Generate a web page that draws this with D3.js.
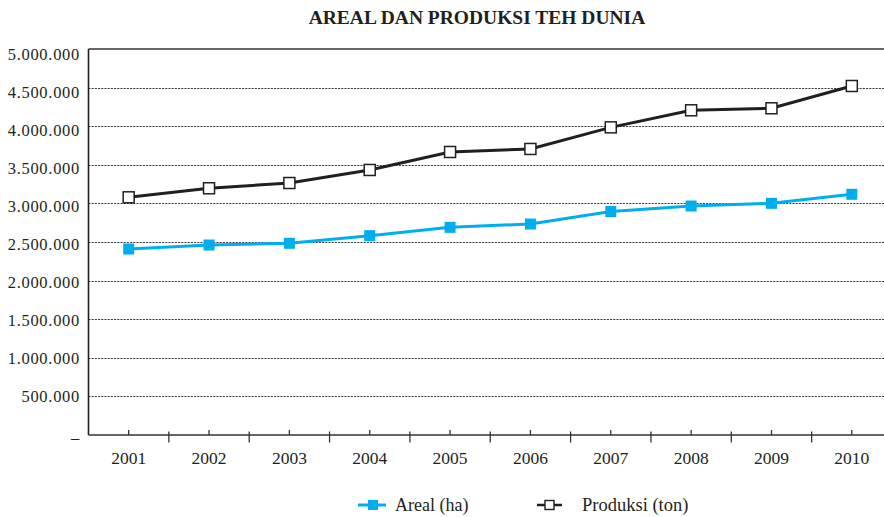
<!DOCTYPE html>
<html>
<head>
<meta charset="utf-8">
<script src="https://cdn.jsdelivr.net/npm/d3@7"></script>
<style>
  html, body { margin: 0; padding: 0; background: #fff; }
  svg { display: block; }
  text { font-family: "Liberation Serif", "DejaVu Serif", serif; fill: #231f20; }
</style>
</head>
<body>
<svg id="chart" width="884" height="517"></svg>
<script>
const title = "AREAL DAN PRODUKSI TEH DUNIA";
const years = ["2001","2002","2003","2004","2005","2006","2007","2008","2009","2010"];
const areal = [2409000, 2461000, 2483000, 2582000, 2690000, 2733000, 2895000, 2966000, 3001000, 3118000];
const produksi = [3079000, 3196000, 3264000, 3433000, 3666000, 3705000, 3985000, 4206000, 4232000, 4521000];
const yTicks = [0, 500000, 1000000, 1500000, 2000000, 2500000, 3000000, 3500000, 4000000, 4500000, 5000000];
const seriesNames = ["Areal (ha)", "Produksi (ton)"];

(function () {
const blue = "#00aeef";
const dark = "#231f20";

const svg = d3.select("#chart");
const mLeft = 88.5, mRight = 892, mTop = 49, mBottom = 435;

const x = d3.scaleBand().domain(years).range([mLeft, mRight]);
const y = d3.scaleLinear().domain([0, 5000000]).range([mBottom, mTop]);
const yLab = d3.scaleLinear().domain([0, 5000000]).range([mBottom - 1, 54]);

const fmt = v => v === 0 ? "–" : d3.format(",")(v).replace(/,/g, ".");

// title
svg.append("text").attr("x", 477).attr("y", 24).attr("text-anchor", "middle")
  .attr("font-size", 19.5).attr("font-weight", "bold").text(title);

// gridlines
svg.append("g").selectAll("line").data(yTicks.filter(d => d > 0 && d < 5000000)).join("line")
  .attr("x1", mLeft).attr("x2", 884).attr("y1", d => Math.round(y(d)) + 0.5).attr("y2", d => Math.round(y(d)) + 0.5)
  .attr("stroke", "#333").attr("stroke-width", 1).attr("stroke-dasharray", "2,1.2");

// top border
svg.append("line").attr("x1", mLeft).attr("x2", 884).attr("y1", y(5000000)).attr("y2", y(5000000))
  .attr("stroke", "#666").attr("stroke-width", 2);

// y labels
svg.append("g").selectAll("text").data(yTicks).join("text")
  .attr("x", 80).attr("y", d => yLab(d)).attr("dy", d => d === 0 ? "0.55em" : "0.34em")
  .attr("text-anchor", "end").attr("font-size", 16.5).attr("letter-spacing", 0.7)
  .text(fmt);

// y axis line
svg.append("line").attr("x1", mLeft).attr("x2", mLeft).attr("y1", mTop).attr("y2", mBottom)
  .attr("stroke", dark).attr("stroke-width", 1.6);

// x axis line
svg.append("line").attr("x1", mLeft).attr("x2", 884).attr("y1", mBottom).attr("y2", mBottom)
  .attr("stroke", "#333").attr("stroke-width", 1.6);

const cx = d => x(d) + x.bandwidth() / 2;

// center ticks
svg.append("g").selectAll("line").data(years).join("line")
  .attr("x1", cx).attr("x2", cx)
  .attr("y1", mBottom - 5).attr("y2", mBottom)
  .attr("stroke", "#333").attr("stroke-width", 1.3);

// boundary ticks
svg.append("g").selectAll("line").data(years.slice(1)).join("line")
  .attr("x1", d => x(d)).attr("x2", d => x(d))
  .attr("y1", mBottom - 3.5).attr("y2", mBottom + 7.5)
  .attr("stroke", "#333").attr("stroke-width", 1.3);

// x labels
svg.append("g").selectAll("text").data(years).join("text")
  .attr("x", cx).attr("y", 463.5)
  .attr("text-anchor", "middle").attr("font-size", 17.5).text(d => d);

const line = d3.line().x((d, i) => cx(years[i])).y(d => y(d));

// produksi
svg.append("path").datum(produksi).attr("d", line).attr("fill", "none")
  .attr("stroke", dark).attr("stroke-width", 3);
svg.append("g").selectAll("rect").data(produksi).join("rect")
  .attr("x", (d, i) => cx(years[i]) - 5.5).attr("y", d => y(d) - 5.5)
  .attr("width", 11).attr("height", 11)
  .attr("fill", "#fff").attr("stroke", dark).attr("stroke-width", 1.5);

// areal
svg.append("path").datum(areal).attr("d", line).attr("fill", "none")
  .attr("stroke", blue).attr("stroke-width", 3);
svg.append("g").selectAll("rect").data(areal).join("rect")
  .attr("x", (d, i) => cx(years[i]) - 5.5).attr("y", d => y(d) - 5.5)
  .attr("width", 11).attr("height", 11).attr("fill", blue);

// legend
const ly = 505;
const lg = svg.append("g");
lg.append("line").attr("x1", 358).attr("x2", 386).attr("y1", ly).attr("y2", ly).attr("stroke", blue).attr("stroke-width", 3);
lg.append("rect").attr("x", 368).attr("y", ly - 5).attr("width", 10).attr("height", 10).attr("fill", blue);
lg.append("text").attr("x", 395).attr("y", ly).attr("dy", "0.33em").attr("font-size", 18).text(seriesNames[0]);

lg.append("line").attr("x1", 537).attr("x2", 562).attr("y1", ly).attr("y2", ly).attr("stroke", dark).attr("stroke-width", 2.5);
lg.append("rect").attr("x", 545).attr("y", ly - 4.5).attr("width", 9).attr("height", 9)
  .attr("fill", "#fff").attr("stroke", dark).attr("stroke-width", 1.4);
lg.append("text").attr("x", 582).attr("y", ly).attr("dy", "0.33em").attr("font-size", 18.5).text(seriesNames[1]);
})();
</script>
</body>
</html>
